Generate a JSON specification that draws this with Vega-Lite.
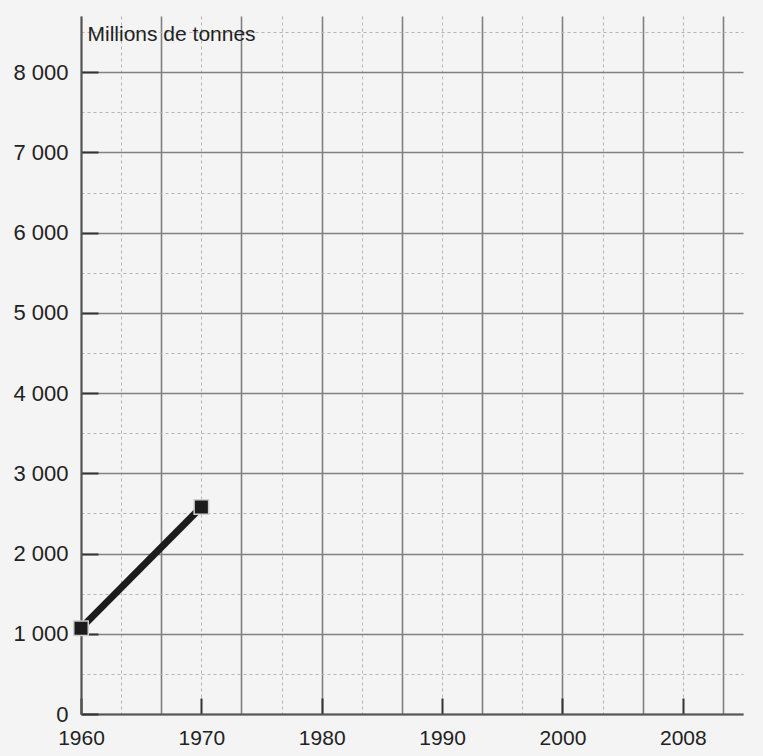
{
  "$schema": "https://vega.github.io/schema/vega-lite/v6.json",
  "width": 662,
  "height": 698,
  "autosize": "none",
  "padding": {"left": 81, "top": 16, "right": 20, "bottom": 42},
  "background": "#f4f4f4",
  "config": {
    "view": {"stroke": null},
    "font": "Liberation Sans",
    "axis": {"labelFont": "Liberation Sans", "titleFont": "Liberation Sans"}
  },
  "data": {
    "values": [
      {"annee": 1960, "production": 1070},
      {"annee": 1970, "production": 2580}
    ]
  },
  "encoding": {
    "x": {
      "field": "annee",
      "type": "quantitative",
      "scale": {"domain": [1960, 2015], "nice": false, "zero": false},
      "axis": {
        "values": [1960, 1963.3333333, 1966.6666667, 1970, 1973.3333333, 1976.6666667, 1980, 1983.3333333, 1986.6666667, 1990, 1993.3333333, 1996.6666667, 2000, 2003.3333333, 2006.6666667, 2010, 2013.3333333],
        "title": null,
        "grid": true,
        "gridColor": {"condition": {"test": "round((datum.value-1960)*0.3) % 2 == 0", "value": "#808080"}, "value": "#b5b5b5"},
        "gridWidth": {"condition": {"test": "round((datum.value-1960)*0.3) % 2 == 0", "value": 1.6}, "value": 1},
        "gridDash": {"condition": {"test": "round((datum.value-1960)*0.3) % 2 == 0", "value": []}, "value": [3, 3]},
        "ticks": true,
        "tickSize": -16,
        "tickWidth": 2,
        "tickColor": "#333333",
        "tickOpacity": {"condition": {"test": "abs(datum.value - round(datum.value/10)*10) < 0.01", "value": 1}, "value": 0},
        "labelExpr": "abs(datum.value - round(datum.value/10)*10) < 0.01 ? (round(datum.value) == 2010 ? '2008' : format(round(datum.value), 'd')) : ''",
        "labelFontSize": 21,
        "labelColor": "#222222",
        "labelPadding": 29,
        "labelFlush": false,
        "labelOverlap": false,
        "domainColor": "#555555",
        "domainWidth": 2
      }
    },
    "y": {
      "field": "production",
      "type": "quantitative",
      "scale": {"domain": [0, 8700], "nice": false, "zero": true},
      "axis": {
        "values": [0, 500, 1000, 1500, 2000, 2500, 3000, 3500, 4000, 4500, 5000, 5500, 6000, 6500, 7000, 7500, 8000, 8500],
        "title": "Millions de tonnes",
        "titleAngle": 0,
        "titleAlign": "left",
        "titleBaseline": "alphabetic",
        "titleX": 6,
        "titleY": 24,
        "titleFontSize": 21,
        "titleFontWeight": "normal",
        "titleColor": "#222222",
        "grid": true,
        "gridColor": {"condition": {"test": "datum.value % 1000 == 0", "value": "#808080"}, "value": "#b5b5b5"},
        "gridWidth": {"condition": {"test": "datum.value % 1000 == 0", "value": 1.6}, "value": 1},
        "gridDash": {"condition": {"test": "datum.value % 1000 == 0", "value": []}, "value": [3, 3]},
        "ticks": true,
        "tickSize": -17,
        "tickWidth": 2,
        "tickColor": "#333333",
        "tickOpacity": {"condition": {"test": "datum.value % 1000 == 0", "value": 1}, "value": 0},
        "labelExpr": "datum.value % 1000 == 0 ? replace(format(datum.value, ',d'), ',', ' ') : ''",
        "labelFontSize": 22,
        "labelColor": "#222222",
        "labelPadding": 30,
        "labelFlush": false,
        "labelOverlap": false,
        "domainColor": "#555555",
        "domainWidth": 2
      }
    }
  },
  "layer": [
    {"mark": {"type": "line", "color": "#1c1c1c", "strokeWidth": 7}},
    {"mark": {"type": "point", "shape": "square", "filled": true, "size": 210, "fill": "#1c1c1c", "stroke": "#cfcfcf", "strokeWidth": 1.5, "opacity": 1}}
  ]
}
